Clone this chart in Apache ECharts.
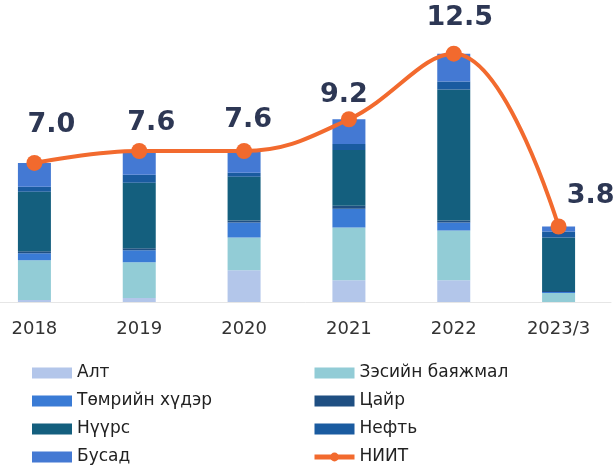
<!DOCTYPE html>
<html>
<head>
<meta charset="utf-8">
<script src="https://cdn.jsdelivr.net/npm/echarts@6/dist/echarts.min.js"></script>
<style>
  html, body { margin: 0; padding: 0; background: #fff; }
  #chart { width: 614px; height: 471px; }
</style>
</head>
<body>
<div id="chart"></div>
<script>
const years = ['2018', '2019', '2020', '2021', '2022', '2023/3'];

// stacked bar parts (bottom to top)
const alt = [0.1, 0.2, 1.6, 1.1, 1.1, 0.0];
const zes = [2.0, 1.8, 1.65, 2.65, 2.5, 0.45];
const tumur = [0.35, 0.6, 0.75, 0.95, 0.4, 0.05];
const tsair = [0.1, 0.1, 0.1, 0.15, 0.1, 0.05];
const nuurs = [3.0, 3.3, 2.2, 2.8, 6.6, 2.7];
const neft = [0.25, 0.4, 0.2, 0.3, 0.4, 0.3];
const busad = [1.2, 1.2, 1.1, 1.25, 1.4, 0.25];
const total = [7.0, 7.6, 7.6, 9.2, 12.5, 3.8];

const barNames = ['Алт', 'Зэсийн баяжмал', 'Төмрийн хүдэр', 'Цайр', 'Нүүрс', 'Нефть', 'Бусад'];
const barData = [alt, zes, tumur, tsair, nuurs, neft, busad];
const barColors = ['#b3c6ea', '#92ccd6', '#3a7bd5', '#1f4f82', '#145f7e', '#1a5ba0', '#4479d3'];

// where each total label sits relative to its point
const labelOffsets = [[17, -11], [12, -2], [4, -5], [-5, 2], [6, -9], [32, -4]];

const chart = echarts.init(document.getElementById('chart'));

const series = barNames.map((name, i) => ({
  name,
  type: 'bar',
  stack: 'all',
  barWidth: 33,
  color: barColors[i],
  data: barData[i],
}));

series.push({
  name: 'НИИТ',
  type: 'line',
  smooth: 0.4,
  color: '#f26a2e',
  symbol: 'circle',
  symbolSize: 16,
  lineStyle: { width: 4 },
  z: 10,
  label: {
    show: true,
    position: 'top',
    fontFamily: 'DejaVu Sans',
    fontWeight: 'bold',
    fontSize: 27,
    color: '#2d3754',
    formatter: ({ value }) => value.toFixed(1),
  },
  data: total.map((v, i) => ({ value: v, label: { offset: labelOffsets[i] } })),
});

const legendBase = {
  orient: 'vertical',
  top: 364,
  padding: 0,
  itemWidth: 40,
  itemHeight: 11,
  itemGap: 10,
  textStyle: { fontFamily: 'DejaVu Sans', fontSize: 17, lineHeight: 18, color: '#222' },
};

const rectItem = (name) => ({ name, icon: 'rect' });

const option = {
  animation: false,
  legend: [
    Object.assign({}, legendBase, {
      left: 32,
      data: ['Алт', 'Төмрийн хүдэр', 'Нүүрс', 'Бусад'].map(rectItem),
    }),
    Object.assign({}, legendBase, {
      left: 312,
      data: ['Зэсийн баяжмал', 'Цайр', 'Нефть'].map(rectItem).concat([
        { name: 'НИИТ', lineStyle: { width: 5 } },
      ]),
    }),
  ],
  grid: { left: -18, width: 629, top: 4, height: 298, outerBoundsMode: 'none' },
  xAxis: {
    type: 'category',
    data: years,
    axisTick: { show: false },
    axisLine: { lineStyle: { color: '#e6e6e6', width: 1 } },
    axisLabel: { fontFamily: 'DejaVu Sans', fontSize: 18, color: '#333', margin: 18 },
  },
  yAxis: { type: 'value', min: 0, max: 15, show: false, splitLine: { show: false } },
  series,
};

chart.setOption(option);
</script>
</body>
</html>
